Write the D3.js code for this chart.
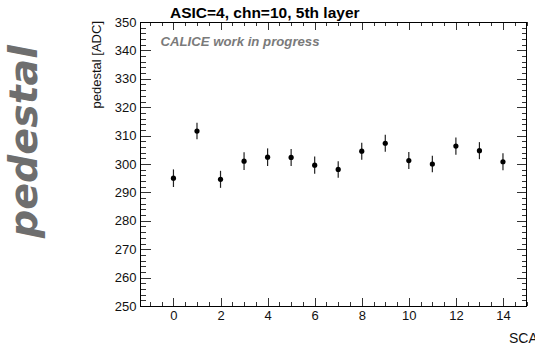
<!DOCTYPE html>
<html lang="en">
<head>
    <meta charset="UTF-8">
    <title>pedestal vs SCA</title>
    <script src="https://cdn.jsdelivr.net/npm/d3@7"></script>
    <style>
        body { margin: 0; background: #ffffff; }
        svg { display: block; }
        text { font-family: "Liberation Sans", Arial, sans-serif; }
        .axis path { display: none; }
        .axis line { stroke: #333333; shape-rendering: crispEdges; }
    </style>
</head>
<body>
    <div id="canvas"></div>

    <script>
        // data
        const sca = [0, 1, 2, 3, 4, 5, 6, 7, 8, 9, 10, 11, 12, 13, 14];
        const pedestal = [295.0, 311.6, 294.6, 301.0, 302.4, 302.3, 299.6, 298.1,
                          304.5, 307.3, 301.2, 300.0, 306.3, 304.7, 300.8];
        const pedestalErr = [3.1, 2.9, 3.0, 3.1, 3.1, 3.0, 3.0, 2.9,
                             3.0, 3.0, 3.0, 2.9, 3.0, 3.0, 3.0];
        const xTicks = [0, 2, 4, 6, 8, 10, 12, 14];
        const yTicks = [250, 260, 270, 280, 290, 300, 310, 320, 330, 340, 350];
    </script>

    <script>
        const width = 535;
        const height = 346;
        const frame = { left: 140.5, right: 526.5, top: 22, bottom: 306 };

        const svg = d3.select('#canvas')
            .append('svg')
            .attr('width', width)
            .attr('height', height);

        svg.append('rect')
            .attr('width', width)
            .attr('height', height)
            .attr('fill', '#ffffff');

        const x = d3.scaleLinear()
            .domain([-1.4, 15])
            .range([frame.left, frame.right]);

        const y = d3.scaleLinear()
            .domain([250, 350])
            .range([frame.bottom, frame.top]);

        const xMinor = d3.range(-1, 15.01, 0.5);
        const yMinor = d3.range(250, 350.01, 2);

        // minor ticks
        svg.append('g').attr('class', 'axis')
            .attr('transform', `translate(0,${frame.bottom})`)
            .call(d3.axisBottom(x).tickValues(xMinor).tickSize(-4).tickFormat(''));
        svg.append('g').attr('class', 'axis')
            .attr('transform', `translate(0,${frame.top})`)
            .call(d3.axisTop(x).tickValues(xMinor).tickSize(-4).tickFormat(''));
        svg.append('g').attr('class', 'axis')
            .attr('transform', `translate(${frame.left},0)`)
            .call(d3.axisLeft(y).tickValues(yMinor).tickSize(-5).tickFormat(''));
        svg.append('g').attr('class', 'axis')
            .attr('transform', `translate(${frame.right},0)`)
            .call(d3.axisRight(y).tickValues(yMinor).tickSize(-5).tickFormat(''));

        // major ticks
        const bottomAxis = svg.append('g').attr('class', 'axis')
            .attr('transform', `translate(0,${frame.bottom})`)
            .call(d3.axisBottom(x).tickValues(xTicks).tickSizeInner(-8).tickSizeOuter(0).tickPadding(5));
        svg.append('g').attr('class', 'axis')
            .attr('transform', `translate(0,${frame.top})`)
            .call(d3.axisTop(x).tickValues(xTicks).tickSize(-8).tickFormat(''));
        const leftAxis = svg.append('g').attr('class', 'axis')
            .attr('transform', `translate(${frame.left},0)`)
            .call(d3.axisLeft(y).tickValues(yTicks).tickSizeInner(-10).tickSizeOuter(0).tickPadding(4));
        svg.append('g').attr('class', 'axis')
            .attr('transform', `translate(${frame.right},0)`)
            .call(d3.axisRight(y).tickValues(yTicks).tickSize(-10).tickFormat(''));

        bottomAxis.selectAll('text')
            .attr('font-size', 13)
            .attr('fill', '#111111');
        leftAxis.selectAll('text')
            .attr('font-size', 13)
            .attr('fill', '#111111')
            .attr('x', -4);

        // frame
        svg.append('rect')
            .attr('x', frame.left)
            .attr('y', frame.top)
            .attr('width', frame.right - frame.left)
            .attr('height', frame.bottom - frame.top)
            .attr('fill', 'none')
            .attr('stroke', '#000000')
            .attr('stroke-width', 1)
            .attr('shape-rendering', 'crispEdges');

        // error bars + markers
        const points = sca.map((s, i) => ({ s, v: pedestal[i], e: pedestalErr[i] }));

        svg.append('g')
            .selectAll('line')
            .data(points)
            .join('line')
            .attr('x1', d => x(d.s))
            .attr('x2', d => x(d.s))
            .attr('y1', d => y(d.v - d.e))
            .attr('y2', d => y(d.v + d.e))
            .attr('stroke', '#222222')
            .attr('stroke-width', 1.2);

        svg.append('g')
            .selectAll('circle')
            .data(points)
            .join('circle')
            .attr('cx', d => x(d.s))
            .attr('cy', d => y(d.v))
            .attr('r', 2.6)
            .attr('fill', '#000000');

        // texts
        svg.append('text')
            .attr('x', 170)
            .attr('y', 18)
            .attr('font-size', 15.5)
            .attr('font-weight', 'bold')
            .attr('fill', '#000000')
            .text('ASIC=4, chn=10, 5th layer');

        svg.append('text')
            .attr('x', 160.5)
            .attr('y', 46)
            .attr('font-size', 13.2)
            .attr('font-weight', 'bold')
            .attr('font-style', 'italic')
            .attr('fill', '#7a7a7a')
            .text('CALICE work in progress');

        svg.append('text')
            .attr('transform', 'translate(101,21) rotate(-90)')
            .attr('text-anchor', 'end')
            .attr('font-size', 13)
            .attr('fill', '#111111')
            .text('pedestal [ADC]');

        // axis title sits at the picture's right edge, as in the original
        svg.append('text')
            .attr('x', 509)
            .attr('y', 343)
            .attr('font-size', 14)
            .attr('fill', '#111111')
            .text('SCA');

        svg.append('text')
            .attr('transform', 'translate(37,238) rotate(-90)')
            .style('font-family', '"DejaVu Sans", sans-serif')
            .attr('font-size', 39.5)
            .attr('font-weight', 'bold')
            .attr('font-style', 'italic')
            .attr('fill', '#6e6e6e')
            .text('pedestal');
    </script>
</body>
</html>
